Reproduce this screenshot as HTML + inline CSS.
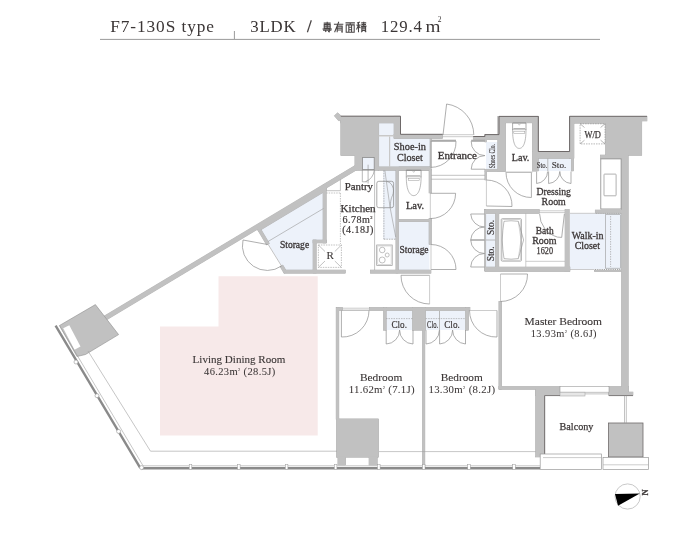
<!DOCTYPE html>
<html><head><meta charset="utf-8"><style>
html,body{margin:0;padding:0;background:#fff;width:700px;height:540px;overflow:hidden}
svg{display:block;will-change:transform}
text{font-family:"Liberation Serif",serif;fill:#3b3636;stroke:#3b3636;stroke-width:0.25px}
</style></head><body>
<svg width="700" height="540" viewBox="0 0 700 540">
<polygon points="218.5,276.2 317.7,276.2 317.7,435.5 160,435.5 160,326.6 218.5,326.6" fill="#f7e9e9" />
<rect x="378.8" y="123" width="15.2" height="12" fill="#edf2fa" />
<rect x="378.8" y="136.5" width="51.2" height="30.4" fill="#edf2fa" />
<rect x="383.2" y="170.3" width="13" height="69.1" fill="#edf2fa" />
<rect x="398.3" y="221.7" width="31.1" height="48.3" fill="#edf2fa" />
<polygon points="324,185 324,241.5 314.5,241.5 314.5,271 285,271 259,229" fill="#edf2fa" />
<rect x="486" y="142" width="11.8" height="27.2" fill="#edf2fa" />
<rect x="536.3" y="158.4" width="35" height="12.6" fill="#edf2fa" />
<rect x="485.7" y="214.2" width="9.7" height="52.8" fill="#edf2fa" />
<rect x="570" y="213.5" width="51.6" height="55.7" fill="#edf2fa" />
<rect x="386.2" y="310.5" width="26.4" height="19.5" fill="#edf2fa" />
<rect x="425.4" y="310.5" width="40.2" height="19.5" fill="#edf2fa" />
<g fill="#c1c1c1" stroke="#9c9c9c" stroke-width="0.5"><rect x="340.8" y="116.2" width="59.7" height="6.8"/><rect x="340.8" y="116.2" width="38" height="39.5"/><rect x="354.9" y="155" width="23.9" height="15.3"/><rect x="394" y="116.2" width="6.5" height="22.3"/><rect x="394" y="134.3" width="48.7" height="4.2"/><rect x="378" y="166.9" width="53" height="3.4"/><rect x="430" y="138.5" width="1.3" height="28.5"/><polygon points="334.3,115.8 337.6,112.8 341.5,116.2 341.5,120.6 338.4,120.6"/><polygon points="362,161.34 362,166.64 103,322.04 103,316.74"/><polygon points="326.2,186.82 326.2,190.62 258.5,231.24 257,228.34"/><rect x="323" y="185" width="3.2" height="58"/><rect x="313" y="240" width="13.2" height="3"/><rect x="313" y="240" width="3.2" height="33"/><rect x="284" y="270" width="61.3" height="3.2"/><polygon points="257.6,229.8 260.4,228.4 269.4,243.5 266.6,245"/><polygon points="280,266.5 282.8,265 287,272 284,273.2"/><rect x="395.9" y="170" width="2.6" height="103"/><rect x="370.4" y="270" width="60.6" height="3.2"/><rect x="398.3" y="219.3" width="32.7" height="2.4"/><rect x="399" y="167" width="32" height="3.3"/><rect x="429" y="169.5" width="2.4" height="23.5"/><rect x="429" y="218.6" width="2.4" height="25.9"/><rect x="473.2" y="136.4" width="25.8" height="3.3"/><rect x="484.9" y="134.6" width="14.1" height="5.1"/><rect x="497.8" y="116.4" width="7.8" height="55.1"/><rect x="484.9" y="169.2" width="20.7" height="2.3"/><rect x="484.9" y="139.3" width="1.4" height="2.7"/><rect x="484.9" y="171" width="1.7" height="9"/><rect x="499" y="116.4" width="39.3" height="6.5"/><rect x="532.3" y="116.4" width="6" height="54.6"/><rect x="532.3" y="151.5" width="41.3" height="6.9"/><rect x="532.3" y="158" width="4" height="13"/><rect x="571.3" y="151.5" width="2.3" height="19.5"/><rect x="569.6" y="116.4" width="4.4" height="42"/><rect x="569.6" y="116.3" width="72.2" height="6.9"/><rect x="605.6" y="116.3" width="36.2" height="39"/><rect x="641" y="116.3" width="6" height="4.7"/><rect x="600.4" y="155" width="27" height="3.9"/><rect x="621.6" y="155" width="6.6" height="237"/><rect x="485" y="209.6" width="54.2" height="3.8"/><rect x="484.5" y="209.6" width="1.3" height="61.4"/><rect x="495.4" y="213" width="3.5" height="54.5"/><rect x="485" y="267" width="85" height="4.5"/><rect x="565" y="209.6" width="4.2" height="61.9"/><rect x="595.2" y="210" width="26.8" height="3.2"/><rect x="594.5" y="270.2" width="27.5" height="1.4"/><rect x="336.6" y="307.5" width="5.9" height="3"/><rect x="369.5" y="307.5" width="100.5" height="3"/><rect x="336.1" y="307.5" width="2.8" height="112.1"/><rect x="422.5" y="307.5" width="2.4" height="159.5"/><rect x="412.6" y="307.5" width="12.8" height="22.7"/><rect x="383.6" y="307.5" width="2.6" height="22.7"/><rect x="465.6" y="307.5" width="3" height="22.7"/><rect x="498.9" y="301.5" width="2.8" height="87.8"/><rect x="498.9" y="386.6" width="61.1" height="2.7"/><rect x="608.6" y="386.6" width="20" height="2.7"/><rect x="535.7" y="388.6" width="9.3" height="68.4"/><rect x="535.7" y="388.6" width="24.3" height="7.1"/><rect x="608.6" y="388.6" width="20" height="7.1"/><rect x="628" y="392" width="5" height="3.6"/><rect x="336.4" y="418.9" width="42.3" height="38.3"/><rect x="337.9" y="456.7" width="7.8" height="8.3"/><rect x="369" y="456.7" width="8.2" height="8.3"/></g><g fill="#c1c1c1"><rect x="340.8" y="116.2" width="59.7" height="6.8"/><rect x="340.8" y="116.2" width="38" height="39.5"/><rect x="354.9" y="155" width="23.9" height="15.3"/><rect x="394" y="116.2" width="6.5" height="22.3"/><rect x="394" y="134.3" width="48.7" height="4.2"/><rect x="378" y="166.9" width="53" height="3.4"/><rect x="430" y="138.5" width="1.3" height="28.5"/><polygon points="334.3,115.8 337.6,112.8 341.5,116.2 341.5,120.6 338.4,120.6"/><polygon points="362,161.34 362,166.64 103,322.04 103,316.74"/><polygon points="326.2,186.82 326.2,190.62 258.5,231.24 257,228.34"/><rect x="323" y="185" width="3.2" height="58"/><rect x="313" y="240" width="13.2" height="3"/><rect x="313" y="240" width="3.2" height="33"/><rect x="284" y="270" width="61.3" height="3.2"/><polygon points="257.6,229.8 260.4,228.4 269.4,243.5 266.6,245"/><polygon points="280,266.5 282.8,265 287,272 284,273.2"/><rect x="395.9" y="170" width="2.6" height="103"/><rect x="370.4" y="270" width="60.6" height="3.2"/><rect x="398.3" y="219.3" width="32.7" height="2.4"/><rect x="399" y="167" width="32" height="3.3"/><rect x="429" y="169.5" width="2.4" height="23.5"/><rect x="429" y="218.6" width="2.4" height="25.9"/><rect x="473.2" y="136.4" width="25.8" height="3.3"/><rect x="484.9" y="134.6" width="14.1" height="5.1"/><rect x="497.8" y="116.4" width="7.8" height="55.1"/><rect x="484.9" y="169.2" width="20.7" height="2.3"/><rect x="484.9" y="139.3" width="1.4" height="2.7"/><rect x="484.9" y="171" width="1.7" height="9"/><rect x="499" y="116.4" width="39.3" height="6.5"/><rect x="532.3" y="116.4" width="6" height="54.6"/><rect x="532.3" y="151.5" width="41.3" height="6.9"/><rect x="532.3" y="158" width="4" height="13"/><rect x="571.3" y="151.5" width="2.3" height="19.5"/><rect x="569.6" y="116.4" width="4.4" height="42"/><rect x="569.6" y="116.3" width="72.2" height="6.9"/><rect x="605.6" y="116.3" width="36.2" height="39"/><rect x="641" y="116.3" width="6" height="4.7"/><rect x="600.4" y="155" width="27" height="3.9"/><rect x="621.6" y="155" width="6.6" height="237"/><rect x="485" y="209.6" width="54.2" height="3.8"/><rect x="484.5" y="209.6" width="1.3" height="61.4"/><rect x="495.4" y="213" width="3.5" height="54.5"/><rect x="485" y="267" width="85" height="4.5"/><rect x="565" y="209.6" width="4.2" height="61.9"/><rect x="595.2" y="210" width="26.8" height="3.2"/><rect x="594.5" y="270.2" width="27.5" height="1.4"/><rect x="336.6" y="307.5" width="5.9" height="3"/><rect x="369.5" y="307.5" width="100.5" height="3"/><rect x="336.1" y="307.5" width="2.8" height="112.1"/><rect x="422.5" y="307.5" width="2.4" height="159.5"/><rect x="412.6" y="307.5" width="12.8" height="22.7"/><rect x="383.6" y="307.5" width="2.6" height="22.7"/><rect x="465.6" y="307.5" width="3" height="22.7"/><rect x="498.9" y="301.5" width="2.8" height="87.8"/><rect x="498.9" y="386.6" width="61.1" height="2.7"/><rect x="608.6" y="386.6" width="20" height="2.7"/><rect x="535.7" y="388.6" width="9.3" height="68.4"/><rect x="535.7" y="388.6" width="24.3" height="7.1"/><rect x="608.6" y="388.6" width="20" height="7.1"/><rect x="628" y="392" width="5" height="3.6"/><rect x="336.4" y="418.9" width="42.3" height="38.3"/><rect x="337.9" y="456.7" width="7.8" height="8.3"/><rect x="369" y="456.7" width="8.2" height="8.3"/></g>
<rect x="378.8" y="135" width="15.2" height="1.5" fill="#c8c8c8" />
<rect x="389" y="136.5" width="1.2" height="30.4" fill="#c8c8c8" />
<rect x="362.6" y="157.5" width="11.6" height="12.1" fill="#edf2fa" stroke="#8a8a8a" stroke-width="0.8" />
<polygon points="59.5,325.5 95.4,304.6 118.6,334.6 85.5,354.5 77,356.5" fill="#c1c1c1" stroke="#8f8f8f" stroke-width="0.6"/>
<polygon points="63.2,328.3 69.3,325.2 80.5,346.5 74.5,349.8" fill="#fff" />
<line x1="268" y1="244.2" x2="281.4" y2="265.8" stroke="#b5b5b5" stroke-width="0.8" />
<rect x="600.8" y="158.9" width="20.3" height="50.1" fill="#fff" stroke="#8a8a8a" stroke-width="0.8" />
<rect x="604" y="174.1" width="12.1" height="21.7" fill="none" stroke="#8f8f8f" stroke-width="0.7" rx="0.6"/>
<line x1="570" y1="213.3" x2="595.2" y2="213.3" stroke="#aaa" stroke-width="0.6" />
<line x1="570" y1="269.5" x2="594.5" y2="269.5" stroke="#aaa" stroke-width="0.6" />
<line x1="595" y1="269.5" x2="621.5" y2="269.5" stroke="#999" stroke-width="0.9" stroke-dasharray="1.2,1"/>
<line x1="596" y1="213.4" x2="621" y2="213.4" stroke="#aaa" stroke-width="0.8" stroke-dasharray="1.2,1"/>
<line x1="342.5" y1="308.2" x2="369.5" y2="308.2" stroke="#aaa" stroke-width="0.6" />
<line x1="342.5" y1="310" x2="369.5" y2="310" stroke="#aaa" stroke-width="0.6" />
<line x1="544.5" y1="395.7" x2="544.5" y2="457" stroke="#6e6969" stroke-width="0.8" />
<rect x="608.6" y="423" width="34.4" height="34" fill="#c1c1c1" stroke="#6e6969" stroke-width="0.8" />
<rect x="560" y="386.3" width="49" height="5.9" fill="#fff" stroke="#999" stroke-width="0.6" />
<rect x="560" y="392.2" width="25" height="3.8" fill="#e6e6e6" stroke="#aaa" stroke-width="0.6" />
<line x1="585" y1="393.9" x2="609" y2="393.9" stroke="#999" stroke-width="0.6" />
<line x1="609" y1="395.6" x2="633" y2="395.6" stroke="#6e6969" stroke-width="0.8" />
<line x1="544.6" y1="395.6" x2="560" y2="395.6" stroke="#6e6969" stroke-width="0.8" />
<line x1="624.5" y1="395.7" x2="624.5" y2="423" stroke="#999" stroke-width="0.6" />
<line x1="626.3" y1="395.7" x2="626.3" y2="423" stroke="#999" stroke-width="0.6" />
<rect x="540.2" y="454" width="61.4" height="15.5" fill="#fff" stroke="#999" stroke-width="0.7" />
<line x1="543" y1="457.6" x2="601.6" y2="457.6" stroke="#aaa" stroke-width="0.6" />
<rect x="603" y="457.4" width="45.6" height="12" fill="#fff" stroke="#999" stroke-width="0.7" />
<line x1="603" y1="464.8" x2="648.6" y2="464.8" stroke="#aaa" stroke-width="0.6" />
<polyline points="340.8,116.2 400.5,116.2 400.5,134.3 442.7,134.3" fill="none" stroke="#6e6969" stroke-width="1" />
<polyline points="473.2,136.5 484.9,136.5 484.9,134.6 499,134.6 499,116.4 538.3,116.4 538.3,151.5 569.6,151.5 569.6,116.3 647,116.3" fill="none" stroke="#6e6969" stroke-width="1" />
<line x1="442.7" y1="134.7" x2="473.2" y2="134.7" stroke="#999" stroke-width="0.5" />
<line x1="442.7" y1="136.7" x2="473.2" y2="136.7" stroke="#999" stroke-width="0.5" />
<line x1="55.6" y1="325.7" x2="140.2" y2="467.8" stroke="#8a8a8a" stroke-width="2.4" />
<line x1="59.5" y1="325.7" x2="143.2" y2="466" stroke="#a0a0a0" stroke-width="0.6" />
<line x1="141.4" y1="468.3" x2="540" y2="468.3" stroke="#8a8a8a" stroke-width="2.4" />
<line x1="143" y1="465.8" x2="540" y2="465.8" stroke="#a0a0a0" stroke-width="0.6" />
<circle cx="141.6" cy="467.6" r="2" fill="#fff" stroke="#999" stroke-width="0.6"/>
<circle cx="97" cy="395.7" r="2" fill="#fff" stroke="#999" stroke-width="0.6"/>
<circle cx="118.6" cy="431.4" r="2" fill="#fff" stroke="#999" stroke-width="0.6"/>
<circle cx="76" cy="362" r="2" fill="#fff" stroke="#999" stroke-width="0.6"/>
<rect x="189.2" y="464.5" width="2.6" height="5" fill="#fff" stroke="#999" stroke-width="0.5"/>
<rect x="237.5" y="464.5" width="2.6" height="5" fill="#fff" stroke="#999" stroke-width="0.5"/>
<rect x="285.3" y="464.5" width="2.6" height="5" fill="#fff" stroke="#999" stroke-width="0.5"/>
<rect x="334.3" y="464.5" width="2.6" height="5" fill="#fff" stroke="#999" stroke-width="0.5"/>
<rect x="377.5" y="464.5" width="2.6" height="5" fill="#fff" stroke="#999" stroke-width="0.5"/>
<rect x="422.4" y="464.5" width="2.6" height="5" fill="#fff" stroke="#999" stroke-width="0.5"/>
<rect x="467.7" y="464.5" width="2.6" height="5" fill="#fff" stroke="#999" stroke-width="0.5"/>
<rect x="512.7" y="464.5" width="2.6" height="5" fill="#fff" stroke="#999" stroke-width="0.5"/>
<polyline points="88,351 150.5,451.2 337,451.2" fill="none" stroke="#a0a0a0" stroke-width="0.6" />
<line x1="379" y1="451.6" x2="535.7" y2="451.6" stroke="#a0a0a0" stroke-width="0.6" />
<line x1="443" y1="135" x2="446.6" y2="104" stroke="#8c8c8c" stroke-width="0.7" />
<path d="M446.6,104 A31.21,31.21 0 0 1 473.8,135" fill="none" stroke="#8c8c8c" stroke-width="0.7" />
<line x1="430.6" y1="141.2" x2="456" y2="141.2" stroke="#8c8c8c" stroke-width="0.7" />
<path d="M456,141.2 A25.4,25.4 0 0 1 430.6,167.4" fill="none" stroke="#8c8c8c" stroke-width="0.7" />
<line x1="430.6" y1="141.2" x2="430.6" y2="167.4" stroke="#aaa" stroke-width="0.6" />
<line x1="484.9" y1="141.2" x2="471.2" y2="141.2" stroke="#8c8c8c" stroke-width="0.7" />
<path d="M471.2,141.2 A13.7,13.7 0 0 0 484.9,155.6" fill="none" stroke="#8c8c8c" stroke-width="0.7" />
<line x1="484.9" y1="169.2" x2="471.2" y2="169.2" stroke="#8c8c8c" stroke-width="0.7" />
<path d="M471.2,169.2 A13.7,13.7 0 0 1 484.9,155.6" fill="none" stroke="#8c8c8c" stroke-width="0.7" />
<line x1="430.3" y1="193.3" x2="455.6" y2="193.3" stroke="#8c8c8c" stroke-width="0.7" />
<path d="M455.6,193.3 A25.3,25.3 0 0 1 430.3,218.6" fill="none" stroke="#8c8c8c" stroke-width="0.7" />
<line x1="430.3" y1="193.3" x2="430.3" y2="218.6" stroke="#aaa" stroke-width="0.6" />
<line x1="431" y1="269.5" x2="456" y2="269.5" stroke="#8c8c8c" stroke-width="0.7" />
<path d="M456,269.5 A25,25 0 0 0 431,244.5" fill="none" stroke="#8c8c8c" stroke-width="0.7" />
<line x1="431" y1="269.5" x2="431" y2="244.5" stroke="#aaa" stroke-width="0.6" />
<line x1="429.6" y1="275.3" x2="401" y2="275.3" stroke="#8c8c8c" stroke-width="0.7" />
<path d="M401,275.3 A28.6,28.6 0 0 0 429.6,304" fill="none" stroke="#8c8c8c" stroke-width="0.7" />
<line x1="429.6" y1="275.3" x2="429.6" y2="304" stroke="#aaa" stroke-width="0.6" />
<line x1="500.5" y1="274" x2="527.5" y2="274" stroke="#8c8c8c" stroke-width="0.7" />
<path d="M527.5,274 A27,27 0 0 1 500.5,301.5" fill="none" stroke="#8c8c8c" stroke-width="0.7" />
<line x1="500.5" y1="274" x2="500.5" y2="301.5" stroke="#aaa" stroke-width="0.6" />
<line x1="486.4" y1="206" x2="512" y2="206.5" stroke="#8c8c8c" stroke-width="0.7" />
<path d="M512,206.5 A25.6,25.6 0 0 0 486.4,180" fill="none" stroke="#8c8c8c" stroke-width="0.7" />
<line x1="486.4" y1="206" x2="486.4" y2="180" stroke="#aaa" stroke-width="0.6" />
<line x1="531.4" y1="172.5" x2="531.4" y2="197.5" stroke="#8c8c8c" stroke-width="0.7" />
<path d="M531.4,197.5 A25,25 0 0 1 506,172.5" fill="none" stroke="#8c8c8c" stroke-width="0.7" />
<line x1="531.4" y1="172.5" x2="506" y2="172.5" stroke="#aaa" stroke-width="0.6" />
<path d="M539.6,213.8 A24.5,24.5 0 0 0 557.5,237.1 L561.7,237.4 L564.4,213.8" fill="none" stroke="#8c8c8c" stroke-width="0.7" />
<line x1="267.5" y1="244.5" x2="243" y2="240" stroke="#8c8c8c" stroke-width="0.7" />
<path d="M243,240 A24.91,24.91 0 0 0 281.5,266" fill="none" stroke="#8c8c8c" stroke-width="0.7" />
<line x1="341.4" y1="310.5" x2="341.4" y2="337" stroke="#8c8c8c" stroke-width="0.7" />
<path d="M341.4,337 A26.5,26.5 0 0 0 369,310.5" fill="none" stroke="#8c8c8c" stroke-width="0.7" />
<line x1="341.4" y1="310.5" x2="369" y2="310.5" stroke="#aaa" stroke-width="0.6" />
<line x1="497" y1="310.5" x2="497" y2="337" stroke="#8c8c8c" stroke-width="0.7" />
<path d="M497,337 A26.5,26.5 0 0 1 469.5,310.5" fill="none" stroke="#8c8c8c" stroke-width="0.7" />
<line x1="497" y1="310.5" x2="469.5" y2="310.5" stroke="#aaa" stroke-width="0.6" />
<line x1="536.6" y1="171.5" x2="536.6" y2="183.5" stroke="#8c8c8c" stroke-width="0.7" />
<path d="M536.6,183.5 A12,12 0 0 0 547.6,171.5" fill="none" stroke="#8c8c8c" stroke-width="0.7" />
<line x1="548.6" y1="171.5" x2="548.6" y2="183.5" stroke="#8c8c8c" stroke-width="0.7" />
<path d="M548.6,183.5 A12,12 0 0 0 559.8,171.5" fill="none" stroke="#8c8c8c" stroke-width="0.7" />
<line x1="571" y1="171.5" x2="571" y2="183.5" stroke="#8c8c8c" stroke-width="0.7" />
<path d="M571,183.5 A12,12 0 0 1 559.8,171.5" fill="none" stroke="#8c8c8c" stroke-width="0.7" />
<line x1="484.5" y1="214" x2="470.7" y2="214" stroke="#8c8c8c" stroke-width="0.7" />
<path d="M470.7,214 A13.8,13.8 0 0 0 484.5,227" fill="none" stroke="#8c8c8c" stroke-width="0.7" />
<line x1="484.5" y1="240" x2="470.7" y2="240" stroke="#8c8c8c" stroke-width="0.7" />
<path d="M470.7,240 A13.8,13.8 0 0 1 484.5,227" fill="none" stroke="#8c8c8c" stroke-width="0.7" />
<line x1="484.5" y1="240" x2="470.7" y2="240" stroke="#8c8c8c" stroke-width="0.7" />
<path d="M470.7,240 A13.8,13.8 0 0 0 484.5,253.5" fill="none" stroke="#8c8c8c" stroke-width="0.7" />
<line x1="484.5" y1="267" x2="470.7" y2="267" stroke="#8c8c8c" stroke-width="0.7" />
<path d="M470.7,267 A13.8,13.8 0 0 1 484.5,253.5" fill="none" stroke="#8c8c8c" stroke-width="0.7" />
<line x1="386.2" y1="330.1" x2="386.2" y2="344" stroke="#8c8c8c" stroke-width="0.7" />
<path d="M386.2,344 A13.9,13.9 0 0 0 399.6,330.1" fill="none" stroke="#8c8c8c" stroke-width="0.7" />
<line x1="413" y1="330.1" x2="413" y2="344" stroke="#8c8c8c" stroke-width="0.7" />
<path d="M413,344 A13.9,13.9 0 0 1 399.6,330.1" fill="none" stroke="#8c8c8c" stroke-width="0.7" />
<line x1="426" y1="330.1" x2="426" y2="344" stroke="#8c8c8c" stroke-width="0.7" />
<path d="M426,344 A13.9,13.9 0 0 0 439.4,330.1" fill="none" stroke="#8c8c8c" stroke-width="0.7" />
<line x1="439.6" y1="330.1" x2="439.6" y2="344" stroke="#8c8c8c" stroke-width="0.7" />
<path d="M439.6,344 A13.9,13.9 0 0 0 452.6,330.1" fill="none" stroke="#8c8c8c" stroke-width="0.7" />
<line x1="465.5" y1="330.1" x2="465.5" y2="344" stroke="#8c8c8c" stroke-width="0.7" />
<path d="M465.5,344 A13.9,13.9 0 0 1 452.6,330.1" fill="none" stroke="#8c8c8c" stroke-width="0.7" />
<line x1="439.5" y1="311" x2="439.5" y2="330" stroke="#aaa" stroke-width="0.8" />
<line x1="386" y1="318.6" x2="413" y2="318.6" stroke="#999" stroke-width="0.6" stroke-dasharray="1.5,1"/>
<line x1="425.7" y1="318.6" x2="465.7" y2="318.6" stroke="#999" stroke-width="0.6" stroke-dasharray="1.5,1"/>
<path d="M362.3,169.6 V181.8 H367.3" fill="none" stroke="#888" stroke-width="0.6" />
<path d="M374.4,170 Q373,179 365.6,181.5" fill="none" stroke="#888" stroke-width="0.6" />
<line x1="368.1" y1="164.7" x2="368.1" y2="183.6" stroke="#888" stroke-width="0.6" />
<line x1="547.8" y1="158.4" x2="547.8" y2="171" stroke="#aaa" stroke-width="0.8" />
<line x1="485.7" y1="240" x2="495.4" y2="240" stroke="#aaa" stroke-width="0.8" />
<line x1="374.6" y1="170.3" x2="374.6" y2="270" stroke="#999" stroke-width="0.6" />
<line x1="383.9" y1="170.3" x2="383.9" y2="239.2" stroke="#999" stroke-width="0.7" stroke-dasharray="1.5,1"/>
<line x1="383.9" y1="239.2" x2="396" y2="239.2" stroke="#999" stroke-width="0.7" stroke-dasharray="1.5,1"/>
<rect x="376.8" y="181.3" width="16.8" height="26.4" fill="none" stroke="#858585" stroke-width="0.7" rx="2"/>
<path d="M386.4,181.4 C389,182 391,183 392.4,186 C394,189 393.6,193 392.5,195.5 C391.3,198 390.4,201 390.2,207.6" fill="none" stroke="#8a8a8a" stroke-width="0.6" />
<polyline points="384.9,170.5 386.4,181.6 390.2,208 395.7,237" fill="none" stroke="#999" stroke-width="0.6" />
<rect x="376.7" y="245" width="15.5" height="20.5" fill="none" stroke="#999" stroke-width="0.7" />
<rect x="377.8" y="246" width="13.3" height="18.4" fill="none" stroke="#bbb" stroke-width="0.5" />
<circle cx="382.2" cy="250" r="2.8" fill="none" stroke="#999" stroke-width="0.6"/>
<circle cx="387.2" cy="255" r="2" fill="none" stroke="#999" stroke-width="0.6"/>
<circle cx="382.2" cy="260" r="3" fill="none" stroke="#999" stroke-width="0.6"/>
<line x1="340.4" y1="193" x2="340.4" y2="244" stroke="#aaa" stroke-width="0.7" stroke-dasharray="1.5,1"/>
<line x1="326.2" y1="193" x2="340.4" y2="193" stroke="#aaa" stroke-width="0.7" stroke-dasharray="1.5,1"/>
<line x1="340.4" y1="179.3" x2="340.4" y2="190.7" stroke="#aaa" stroke-width="0.7" />
<line x1="326.2" y1="190.7" x2="340.4" y2="190.7" stroke="#aaa" stroke-width="0.7" />
<rect x="318.4" y="245" width="23" height="22.4" fill="none" stroke="#999" stroke-width="0.6" stroke-dasharray="1.5,1"/>
<line x1="318.4" y1="245" x2="325" y2="251.5" stroke="#999" stroke-width="0.6" />
<line x1="341.4" y1="245" x2="334.8" y2="251.5" stroke="#999" stroke-width="0.6" />
<line x1="318.4" y1="267.4" x2="325" y2="261" stroke="#999" stroke-width="0.6" />
<line x1="341.4" y1="267.4" x2="334.8" y2="261" stroke="#999" stroke-width="0.6" />
<line x1="268" y1="241.5" x2="323.5" y2="208.5" stroke="#999" stroke-width="0.6" />
<line x1="406.3" y1="170.2" x2="421.1" y2="170.2" stroke="#777" stroke-width="0.8" />
<line x1="406.3" y1="170.2" x2="406.3" y2="177.2" stroke="#888" stroke-width="0.7" />
<line x1="421.1" y1="170.2" x2="421.1" y2="177.2" stroke="#888" stroke-width="0.7" />
<path d="M412.5,170.8 L413.7,172.4 L414.9,170.8" fill="none" stroke="#999" stroke-width="0.5" />
<line x1="407.1" y1="175.8" x2="420.3" y2="175.8" stroke="#888" stroke-width="0.7" />
<line x1="406.3" y1="176.8" x2="421.1" y2="176.8" stroke="#999" stroke-width="0.5" />
<rect x="408.2" y="178.4" width="11" height="2.2" fill="none" stroke="#999" stroke-width="0.5" />
<path d="M406.3,176.8 C406.3,191.2 410.2,195.6 413.7,195.6 C417.2,195.6 421.1,191.2 421.1,176.8" fill="none" stroke="#8c8c8c" stroke-width="0.6" />
<line x1="512.6" y1="123" x2="526" y2="123" stroke="#777" stroke-width="0.8" />
<line x1="512.6" y1="123" x2="512.6" y2="130" stroke="#888" stroke-width="0.7" />
<line x1="526" y1="123" x2="526" y2="130" stroke="#888" stroke-width="0.7" />
<path d="M518.1,123.6 L519.3,125.2 L520.5,123.6" fill="none" stroke="#999" stroke-width="0.5" />
<line x1="513.4" y1="128.6" x2="525.2" y2="128.6" stroke="#888" stroke-width="0.7" />
<line x1="512.6" y1="129.6" x2="526" y2="129.6" stroke="#999" stroke-width="0.5" />
<rect x="513.8" y="131.2" width="11" height="2.2" fill="none" stroke="#999" stroke-width="0.5" />
<path d="M512.6,129.6 C512.6,144 515.8,148.4 519.3,148.4 C522.8,148.4 526,144 526,129.6" fill="none" stroke="#8c8c8c" stroke-width="0.6" />
<rect x="580.1" y="123.8" width="24.9" height="20.1" fill="none" stroke="#888" stroke-width="0.6" stroke-dasharray="1.5,1"/>
<line x1="580.1" y1="123.8" x2="584.5" y2="127.5" stroke="#888" stroke-width="0.6" />
<line x1="605" y1="123.8" x2="600.6" y2="127.5" stroke="#888" stroke-width="0.6" />
<line x1="580.1" y1="143.9" x2="584.5" y2="140.2" stroke="#888" stroke-width="0.6" />
<line x1="605" y1="143.9" x2="600.6" y2="140.2" stroke="#888" stroke-width="0.6" />
<rect x="501.2" y="218.6" width="20.3" height="42.6" fill="none" stroke="#8a8a8a" stroke-width="0.6" rx="1.2"/>
<rect x="502.1" y="219.5" width="18.5" height="40.8" fill="none" stroke="#aaa" stroke-width="0.5" rx="1"/>
<path d="M504,221.3 Q511,220.2 518.3,221.3 L523.6,240 L518.3,258.6 Q511,259.8 504,258.6 Q502.6,250 502.2,240 Q502.6,230 504,221.3 Z" fill="none" stroke="#8f8f8f" stroke-width="0.6" />
<path d="M518.3,221.3 L521,240 L518.3,258.6" fill="none" stroke="#aaa" stroke-width="0.5" />
<line x1="525.8" y1="213.4" x2="525.8" y2="267" stroke="#aaa" stroke-width="0.6" />
<line x1="525.8" y1="261.3" x2="565" y2="261.3" stroke="#aaa" stroke-width="0.6" />
<line x1="539.2" y1="210.8" x2="565" y2="210.8" stroke="#aaa" stroke-width="0.6" />
<line x1="539.2" y1="212.6" x2="565" y2="212.6" stroke="#aaa" stroke-width="0.6" />
<rect x="605.4" y="214.7" width="15" height="53.5" fill="none" stroke="#999" stroke-width="0.6" />
<line x1="610.6" y1="216" x2="610.6" y2="267" stroke="#999" stroke-width="0.6" stroke-dasharray="1.5,1"/>
<line x1="431.3" y1="175.3" x2="484.9" y2="175.3" stroke="#999" stroke-width="0.6" />
<line x1="431.3" y1="179.2" x2="484.9" y2="179.2" stroke="#999" stroke-width="0.6" />
<line x1="431.3" y1="140.6" x2="456" y2="140.6" stroke="#aaa" stroke-width="1.8" />
<line x1="471.2" y1="140.6" x2="484.9" y2="140.6" stroke="#aaa" stroke-width="1.8" />
<line x1="505.6" y1="172.2" x2="532.3" y2="172.2" stroke="#bbb" stroke-width="1.2" />
<line x1="100" y1="39.4" x2="600" y2="39.4" stroke="#9a9a9a" stroke-width="1" />
<line x1="234.4" y1="31" x2="234.4" y2="39" stroke="#9a9a9a" stroke-width="1" />
<text x="110.2" y="31.6" font-size="17.3" textLength="103.8" lengthAdjust="spacing" fill="#484545" style="stroke:none">F7-130S type</text>
<text x="250.3" y="31.6" font-size="16.8" textLength="45.4" lengthAdjust="spacing" fill="#484545" style="stroke:none">3LDK</text>
<line x1="311.3" y1="20.2" x2="307.4" y2="32.3" stroke="#4a4646" stroke-width="1.25" />
<text x="380.8" y="31.6" font-size="16.8" textLength="41" lengthAdjust="spacing" fill="#484545" style="stroke:none">129.4</text>
<text x="425.6" y="31.6" font-size="17" textLength="15" lengthAdjust="spacingAndGlyphs" fill="#484545" style="stroke:none">m</text>
<text x="437.7" y="21.6" font-size="7.5" fill="#484545" style="stroke:none">2</text>
<path transform="translate(322.2,21.8) scale(1.0,1.04)" d="M1.5,1.3H8.5M2,2.7H8V6H2ZM2,4.35H8M5,0V6.6M0.3,6.9H9.7M0.8,8.1H9.2M7.1,6.9V9.6L5.8,9.4M3,8.6L4,9.6" fill="none" stroke="#484444" stroke-width="1.05" stroke-linecap="butt"/>
<path transform="translate(333.6,21.8) scale(1.0,1.04)" d="M0.3,2.4H9.7M5.2,0L1,10M3.6,4.2H8.6V9.8L7.6,9.5M3.6,4.2V10M3.6,6.1H8.6M3.6,7.9H8.6" fill="none" stroke="#484444" stroke-width="1.05" stroke-linecap="butt"/>
<path transform="translate(345.2,21.8) scale(1.0,1.04)" d="M0.3,1H9.7M5,1V3M1,3H9V10H1ZM3.6,3V10M6.4,3V10M3.6,5.3H6.4M3.6,7.6H6.4" fill="none" stroke="#484444" stroke-width="1.05" stroke-linecap="butt"/>
<path transform="translate(356.2,21.8) scale(1.0,1.04)" d="M0.3,3.2H4.3M2.3,0.3V10M3.8,0.2L0.8,1.2M2.3,3.4L0.3,7.5M2.3,4L4.2,6M5,1H10M5.2,2.6H9.8M7.5,0V4.2M4.7,4.2H10.3M5.6,5.2H9.4V8.4H5.6ZM5.6,6.8H9.4M6.5,8.4L5,10M8.5,8.4L10,10" fill="none" stroke="#484444" stroke-width="1.05" stroke-linecap="butt"/>
<text x="409.9" y="149.9" font-size="11" text-anchor="middle" textLength="32.21" lengthAdjust="spacingAndGlyphs" style="stroke-width:0.3px">Shoe-in</text>
<text x="409.9" y="161" font-size="11.2" text-anchor="middle" textLength="25.85" lengthAdjust="spacingAndGlyphs" style="stroke-width:0.3px">Closet</text>
<text x="457.35" y="158.7" font-size="10.7" text-anchor="middle" textLength="39.01" lengthAdjust="spacingAndGlyphs" style="stroke-width:0.3px">Entrance</text>
<text x="358.9" y="190.4" font-size="9.9" text-anchor="middle" textLength="28.22" lengthAdjust="spacingAndGlyphs" style="stroke-width:0.25px">Pantry</text>
<text x="358.1" y="211.7" font-size="10.1" text-anchor="middle" textLength="35.03" lengthAdjust="spacingAndGlyphs" style="stroke-width:0.25px">Kitchen</text>
<text x="357.45" y="222.6" font-size="10.1" text-anchor="middle" textLength="30.05" lengthAdjust="spacing" style="stroke-width:0.2px">6.78m<tspan font-size="4.5" dy="-4">2</tspan><tspan dy="4"> </tspan></text>
<text x="357.8" y="232.8" font-size="10.1" text-anchor="middle" textLength="31.21" lengthAdjust="spacing" style="stroke-width:0.2px">(4.18J)</text>
<text x="414.1" y="252.6" font-size="9.9" text-anchor="middle" textLength="29" lengthAdjust="spacingAndGlyphs" style="stroke-width:0.3px">Storage</text>
<text x="415" y="208.5" font-size="10.8" text-anchor="middle" textLength="18.13" lengthAdjust="spacingAndGlyphs" style="stroke-width:0.3px">Lav.</text>
<text x="294.55" y="247.9" font-size="9.8" text-anchor="middle" textLength="29.21" lengthAdjust="spacingAndGlyphs" style="stroke-width:0.3px">Storage</text>
<text x="520.6" y="161.2" font-size="10.8" text-anchor="middle" textLength="17.62" lengthAdjust="spacingAndGlyphs" style="stroke-width:0.3px">Lav.</text>
<text x="553.7" y="194.8" font-size="10.8" text-anchor="middle" textLength="34.62" lengthAdjust="spacingAndGlyphs" style="stroke-width:0.3px">Dressing</text>
<text x="553.7" y="205.4" font-size="10.6" text-anchor="middle" textLength="24.22" lengthAdjust="spacingAndGlyphs" style="stroke-width:0.3px">Room</text>
<text x="544.7" y="233.7" font-size="10.2" text-anchor="middle" textLength="17.82" lengthAdjust="spacingAndGlyphs" style="stroke-width:0.3px">Bath</text>
<text x="544.4" y="244.4" font-size="10.2" text-anchor="middle" textLength="24.4" lengthAdjust="spacingAndGlyphs" style="stroke-width:0.3px">Room</text>
<text x="544.8" y="253.7" font-size="10.2" text-anchor="middle" textLength="16.42" lengthAdjust="spacingAndGlyphs" style="stroke-width:0.25px">1620</text>
<text x="587.65" y="238.7" font-size="10.8" text-anchor="middle" textLength="31.81" lengthAdjust="spacingAndGlyphs" style="stroke-width:0.3px">Walk-in</text>
<text x="587.35" y="249.3" font-size="10.2" text-anchor="middle" textLength="25.4" lengthAdjust="spacingAndGlyphs" style="stroke-width:0.3px">Closet</text>
<text x="239" y="362.6" font-size="10.5" text-anchor="middle" textLength="92.8" lengthAdjust="spacingAndGlyphs" style="stroke-width:0.12px">Living Dining Room</text>
<text x="239.65" y="374.9" font-size="10.5" text-anchor="middle" textLength="71.22" lengthAdjust="spacing" style="stroke-width:0.05px">46.23m<tspan font-size="4.5" dy="-4">2</tspan><tspan dy="4"> </tspan>(28.5J)</text>
<text x="381.15" y="381" font-size="11" text-anchor="middle" textLength="42.43" lengthAdjust="spacingAndGlyphs" style="stroke-width:0.12px">Bedroom</text>
<text x="381.7" y="392.7" font-size="10.8" text-anchor="middle" textLength="65.73" lengthAdjust="spacing" style="stroke-width:0.05px">11.62m<tspan font-size="4.5" dy="-4">2</tspan><tspan dy="4"> </tspan>(7.1J)</text>
<text x="461.8" y="381" font-size="11" text-anchor="middle" textLength="42.02" lengthAdjust="spacingAndGlyphs" style="stroke-width:0.12px">Bedroom</text>
<text x="461.8" y="392.7" font-size="10.8" text-anchor="middle" textLength="66.77" lengthAdjust="spacing" style="stroke-width:0.05px">13.30m<tspan font-size="4.5" dy="-4">2</tspan><tspan dy="4"> </tspan>(8.2J)</text>
<text x="563.3" y="325.2" font-size="10.4" text-anchor="middle" textLength="77.41" lengthAdjust="spacingAndGlyphs" style="stroke-width:0.12px">Master Bedroom</text>
<text x="563.65" y="337" font-size="10.4" text-anchor="middle" textLength="65.82" lengthAdjust="spacing" style="stroke-width:0.05px">13.93m<tspan font-size="4.5" dy="-4">2</tspan><tspan dy="4"> </tspan>(8.6J)</text>
<text x="576.5" y="429.8" font-size="11" text-anchor="middle" textLength="33.81" lengthAdjust="spacingAndGlyphs" style="stroke-width:0.25px">Balcony</text>
<text x="592.7" y="137.6" font-size="10" text-anchor="middle" textLength="16.42" lengthAdjust="spacingAndGlyphs" style="stroke-width:0.25px">W/D</text>
<text x="399.2" y="328.1" font-size="9.8" text-anchor="middle" textLength="15.62" lengthAdjust="spacingAndGlyphs" style="stroke-width:0.15px">Clo.</text>
<text x="432.6" y="328.1" font-size="9.8" text-anchor="middle" textLength="11.24" lengthAdjust="spacingAndGlyphs" style="stroke-width:0.15px">Clo.</text>
<text x="452" y="328.1" font-size="9.8" text-anchor="middle" textLength="15.69" lengthAdjust="spacingAndGlyphs" style="stroke-width:0.15px">Clo.</text>
<text x="542.05" y="167.6" font-size="9" text-anchor="middle" textLength="10.61" lengthAdjust="spacingAndGlyphs" style="stroke-width:0.15px">Sto.</text>
<text x="559.05" y="167.6" font-size="9" text-anchor="middle" textLength="14.61" lengthAdjust="spacingAndGlyphs" style="stroke-width:0.15px">Sto.</text>
<text x="0" y="0" font-size="9.6" text-anchor="middle" textLength="15" lengthAdjust="spacingAndGlyphs" transform="translate(494.4,227.4) rotate(-90)" style="stroke-width:0.2px">Sto.</text>
<text x="0" y="0" font-size="9.6" text-anchor="middle" textLength="15" lengthAdjust="spacingAndGlyphs" transform="translate(494.4,253.8) rotate(-90)" style="stroke-width:0.2px">Sto.</text>
<text x="0" y="0" font-size="8.6" text-anchor="middle" textLength="24.2" lengthAdjust="spacingAndGlyphs" transform="translate(494.8,156.1) rotate(-90)" style="stroke-width:0.15px">Shoes Clo.</text>
<text x="330.2" y="259.4" font-size="11" text-anchor="middle" style="stroke-width:0.1px">R</text>
<circle cx="627.6" cy="496.5" r="12.6" fill="none" stroke="#bbb" stroke-width="0.8"/>
<polygon points="615,493.9 639.8,493.5 618,505.7" fill="#000" />
<text x="0" y="0" font-size="8.5" text-anchor="middle" font-weight="bold" fill="#111" transform="translate(647.6,492.4) rotate(-90)">N</text>
</svg></body></html>
